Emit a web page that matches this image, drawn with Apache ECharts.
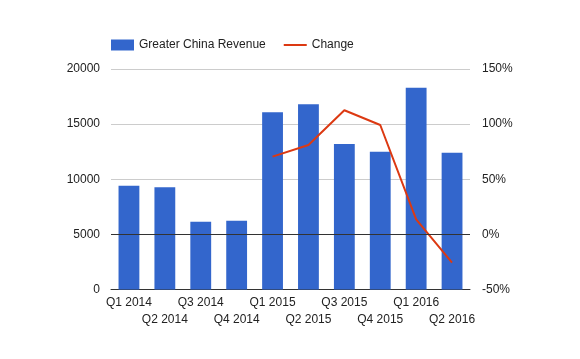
<!DOCTYPE html>
<html>
<head>
<meta charset="utf-8">
<script src="https://cdn.jsdelivr.net/npm/echarts@6/dist/echarts.min.js"></script>
<style>html,body{margin:0;padding:0;background:#fff}#c{width:580px;height:359px}</style>
</head>
<body>
<div id="c"></div>
<script>
const categories = ['Q1 2014','Q2 2014','Q3 2014','Q4 2014','Q1 2015','Q2 2015','Q3 2015','Q4 2015','Q1 2016','Q2 2016'];
const revenue = [9400, 9270, 6150, 6240, 16070, 16800, 13200, 12500, 18300, 12410];
const change = [null, null, null, null, 70.5, 81, 112.6, 99.2, 13.7, -25.7];
const leftTicks = [0, 5000, 10000, 15000, 20000];
const rightTicks = [-50, 0, 50, 100, 150];

const chart = echarts.init(document.getElementById('c'));
const font = 'Arial, "Liberation Sans", sans-serif';
chart.setOption({
  animation: false,
  textStyle: {fontFamily: font},
  legend: {
    left: 111, top: 39, padding: 0, itemWidth: 23, itemHeight: 11, itemGap: 18,
    textStyle: {fontSize: 12, color: '#222', fontFamily: font},
    data: [
      {name: 'Greater China Revenue', icon: 'rect'},
      {name: 'Change', icon: 'path://M0,0 L0.01,0 L0.01,0.01 Z M0,4.5 L23,4.5 L23,6.5 L0,6.5 Z M0,10.99 L0.01,11 L0,11 Z',
       itemStyle: {color: '#dc3912'}}
    ]
  },
  grid: {left: 111, right: 110, top: 69, bottom: 69.5},
  xAxis: {
    type: 'category', data: categories,
    axisLine: {lineStyle: {color: '#333'}},
    axisTick: {show: false},
    axisLabel: {
      interval: 0, color: '#222', fontSize: 12, fontFamily: font, margin: 5, lineHeight: 17,
      formatter: (v, i) => i % 2 ? '\n' + v : v
    }
  },
  yAxis: [{
    type: 'value', min: leftTicks[0], max: leftTicks[leftTicks.length-1], interval: 5000,
    axisLine: {show: false}, axisTick: {show: false},
    axisLabel: {color: '#222', fontSize: 12, fontFamily: font, margin: 11, formatter: v => String(v)},
    splitLine: {lineStyle: {color: '#ccc'}}
  }, {
    type: 'value', min: rightTicks[0], max: rightTicks[rightTicks.length-1], interval: 50,
    axisLine: {show: false}, axisTick: {show: false},
    axisLabel: {color: '#222', fontSize: 12, fontFamily: font, margin: 12, formatter: v => v + '%'},
    splitLine: {show: false}
  }],
  series: [{
    name: 'Greater China Revenue', type: 'bar', data: revenue, barWidth: '58%',
    itemStyle: {color: '#3366cc'}
  }, {
    name: 'Change', type: 'line', yAxisIndex: 1, data: change,
    showSymbol: false, symbol: 'none',
    lineStyle: {color: '#dc3912', width: 2}, itemStyle: {color: '#dc3912'},
    markLine: {
      silent: true, symbol: 'none', label: {show: false},
      lineStyle: {color: '#333', width: 1, type: 'solid'},
      data: [{yAxis: 0}]
    }
  }]
});
</script>
</body>
</html>
